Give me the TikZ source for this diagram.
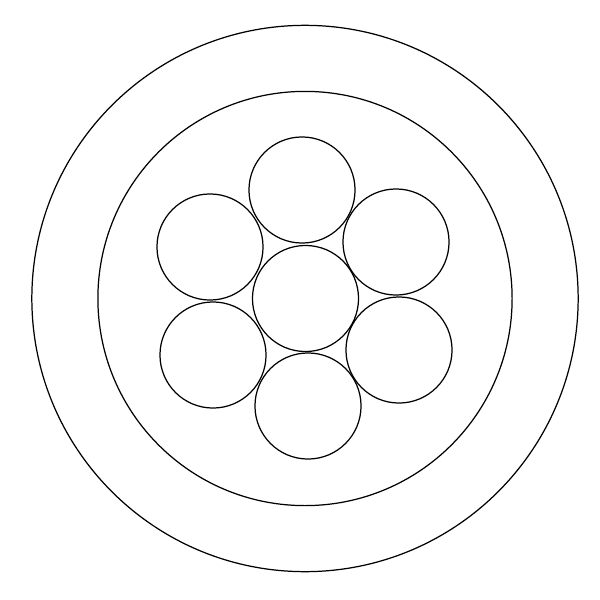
\documentclass[tikz,border=0pt]{standalone}
\begin{document}
\begin{tikzpicture}[x=0.01cm,y=-0.01cm,
  ring/.style={circle,draw=black,line width=0.35pt,inner sep=0pt,outer sep=0pt},
  wire/.style={ring,minimum size=1.06cm}]
\useasboundingbox (0,0) rectangle (600,600);
\node[ring,minimum size=5.46cm] (outer) at (305,298.5) {};
\node[ring,minimum size=4.14cm] (inner) at (305,298.5) {};
\node[wire] (c) at (305.5,298.5) {};
\node[wire] (t) at (302,190) {};
\node[wire] (ur) at (396,242) {};
\node[wire] (ul) at (210,247) {};
\node[wire] (ll) at (213,355) {};
\node[wire] (lr) at (399,350) {};
\node[wire] (b) at (308,406) {};
\end{tikzpicture}
\end{document}
